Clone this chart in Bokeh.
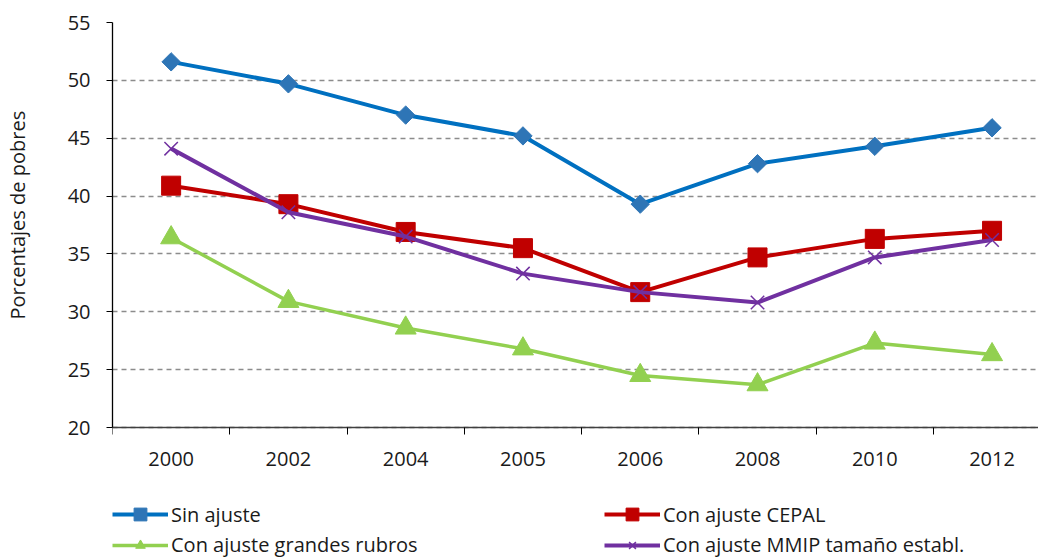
import math
from bokeh.plotting import figure
from bokeh.models import (ColumnDataSource, Range1d, FixedTicker, Legend, LegendItem)
from bokeh.embed import file_html
from bokeh.resources import INLINE

years = ["2000", "2002", "2004", "2005", "2006", "2008", "2010", "2012"]
sin_ajuste = [51.6, 49.7, 47.0, 45.2, 39.3, 42.8, 44.3, 45.9]
con_cepal = [40.9, 39.3, 36.9, 35.5, 31.7, 34.7, 36.3, 37.0]
con_rubros = [36.4, 30.9, 28.6, 26.8, 24.5, 23.7, 27.3, 26.3]
con_mmip = [44.1, 38.6, 36.5, 33.3, 31.7, 30.8, 34.7, 36.2]
y_ticks = [20, 25, 30, 35, 40, 45, 50, 55]
y_title = "Porcentajes de pobres"

FONT = "Open Sans"
TXT = "#1a1a1a"
FS = "20px"

xs = list(range(len(years)))
src = ColumnDataSource(dict(x=xs, a=sin_ajuste, b=con_cepal, c=con_rubros, d=con_mmip))

W, H = 1038, 558
# frame spans to the canvas bottom; the x axis is pinned at y=20 so the
# legend area below it stays inside the frame
p = figure(width=W, height=H, output_backend="svg", toolbar_location=None,
           x_range=Range1d(-0.5, 7.396), y_range=Range1d(8.68, 55),
           min_border_left=111, min_border_right=0, min_border_top=22,
           min_border_bottom=0)
p.outline_line_color = None
p.background_fill_color = "white"
p.border_fill_color = "white"

# grid
p.xgrid.grid_line_color = None
p.ygrid.grid_line_color = "#8c8c8c"
p.ygrid.grid_line_dash = "5 4"
p.ygrid.grid_line_width = 1.3
p.yaxis.ticker = FixedTicker(ticks=y_ticks)

# x axis: labels at centers, ticks at boundaries (minor)
p.xaxis.fixed_location = y_ticks[0]
p.xaxis.ticker = FixedTicker(ticks=xs, minor_ticks=[i - 0.5 for i in range(len(years) + 1)])
p.xaxis.major_label_overrides = {i: y for i, y in enumerate(years)}
p.xaxis.major_tick_line_color = None
p.xaxis.minor_tick_line_color = "black"
p.xaxis.minor_tick_out = 7
p.xaxis.minor_tick_in = 0
p.xaxis.axis_line_color = "#404040"
p.xaxis.axis_line_width = 1.3
p.xaxis.major_label_standoff = 17
for ax in (p.xaxis, p.yaxis):
    ax.major_label_text_font = FONT
    ax.major_label_text_font_size = FS
    ax.major_label_text_color = TXT

p.yaxis.bounds = (y_ticks[0], y_ticks[-1])
p.yaxis.axis_line_color = "black"
p.yaxis.axis_line_width = 1.3
p.yaxis.major_tick_line_color = "black"
p.yaxis.major_tick_out = 6
p.yaxis.major_tick_in = 0
p.yaxis.minor_tick_line_color = None
p.yaxis.major_label_standoff = 16
# the axis label is centred on the whole frame; leading no-break spaces lift
# the visible words to the middle of the 20-55 span
p.yaxis.axis_label = "\u00a0" * 29 + y_title
p.yaxis.axis_label_text_font = FONT
p.yaxis.axis_label_text_font_size = FS
p.yaxis.axis_label_text_font_style = "normal"
p.yaxis.axis_label_text_color = TXT
p.yaxis.axis_label_standoff = 34

# series
la = p.line("x", "a", source=src, line_color="#0070C0", line_width=4)
ma = p.scatter("x", "a", source=src, marker="square", size=13, angle=math.pi / 4,
               fill_color="#2E75B6", line_color="#2E75B6")
lb = p.line("x", "b", source=src, line_color="#C00000", line_width=4)
mb = p.scatter("x", "b", source=src, marker="square", size=19,
               fill_color="#C00000", line_color="#C00000")
lc = p.line("x", "c", source=src, line_color="#92D050", line_width=3.5)
mc = p.scatter("x", "c", source=src, marker="triangle", size=21,
               fill_color="#92D050", line_color="#92D050")
ld = p.line("x", "d", source=src, line_color="#7030A0", line_width=4)
md = p.scatter("x", "d", source=src, marker="x", size=19,
               line_color="#7030A0", line_width=1.5)


def make_legend(items, h, loc):
    lg = Legend(items=items, orientation="horizontal")
    lg.label_text_font = FONT
    lg.label_text_font_size = FS
    lg.label_text_color = TXT
    lg.glyph_width = 56
    lg.glyph_height = h
    lg.label_height = h
    lg.label_standoff = 3
    lg.label_width = 433
    lg.spacing = 0
    lg.padding = 0
    lg.margin = 0
    lg.border_line_color = None
    lg.background_fill_alpha = 0
    lg.location = loc
    return lg


leg1 = make_legend([
    LegendItem(label="Sin ajuste", renderers=[la, ma]),
    LegendItem(label="Con ajuste CEPAL", renderers=[lb, mb]),
], 32, (0, 28))
leg2 = make_legend([
    LegendItem(label="Con ajuste grandes rubros", renderers=[lc, mc]),
    LegendItem(label="Con ajuste MMIP tamaño establ.", renderers=[ld, md]),
], 24, (0, 0))
p.add_layout(leg1, "center")
p.add_layout(leg2, "center")

open("out.html", "w").write(file_html(p, INLINE))
